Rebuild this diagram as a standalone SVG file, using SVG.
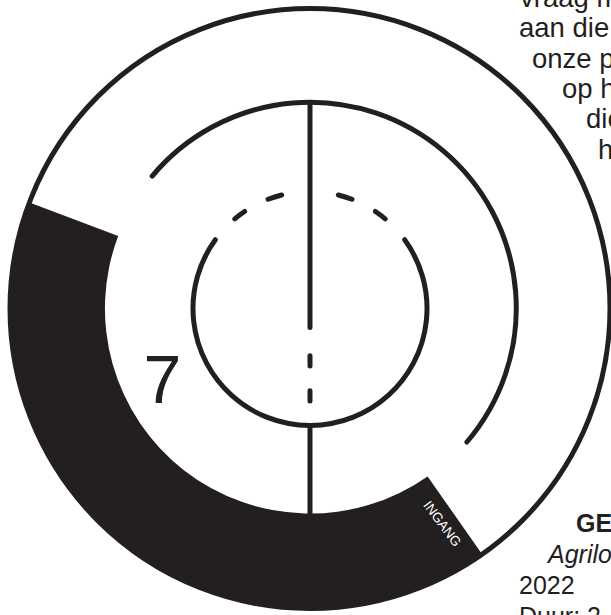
<svg xmlns="http://www.w3.org/2000/svg" width="611" height="615" viewBox="0 0 611 615">
<style>
.ln{fill:none;stroke:#231f20;stroke-width:5;stroke-linecap:round}
.txt{font-family:"Liberation Sans",Arial,sans-serif;fill:#231f20;font-size:27.5px}
.bt{font-family:"Liberation Sans",Arial,sans-serif;fill:#231f20;font-size:25px}
</style>
<rect width="611" height="615" fill="#ffffff"/>
<g id="band">
<path d="M482.1,554.3 A300,300 0 0 1 29.4,202.5 L118.2,236.0 A205,205 0 0 0 427.6,476.4 Z" fill="#231f20"/>
<text transform="translate(442.5,523.5) rotate(53)" y="4.8" text-anchor="middle" font-family="Liberation Sans, Arial, sans-serif" font-size="13.5" fill="#ffffff">INGANG</text>
</g>
<g id="outer-ring"><circle cx="310" cy="308.5" r="300" class="ln"/></g>
<g id="middle-ring"><path class="ln" d="M152.2,176.1 A206,206 0 1 1 466.9,442.0"/></g>
<g id="inner-ring">
<path class="ln" d="M404.66,239.73 A117,117 0 1 1 215.34,239.73"/>
<path class="ln" d="M234.79,218.87 A117,117 0 0 1 244.57,211.50 M268.07,199.27 A117,117 0 0 1 281.69,195.00 M338.31,195.00 A117,117 0 0 1 351.93,199.27 M375.43,211.50 A117,117 0 0 1 385.21,218.87"/>
</g>
<g id="connectors">
<path class="ln" d="M310,103 V327.5 M310,355.8 V366 M310,390.8 V401"/>
<path class="ln" style="stroke-linecap:butt" d="M310,425 V514"/>
</g>
<g id="number"><text class="txt" x="143.5" y="403" style="font-size:68px">7</text></g>
<g id="top-text">
<text class="txt" x="520" y="7">vraag m</text>
<text class="txt" x="519" y="37.3">aan die</text>
<text class="txt" x="532" y="67.6">onze p</text>
<text class="txt" x="562" y="97.9">op h</text>
<text class="txt" x="586" y="128.2">die</text>
<text class="txt" x="598" y="158.5">h</text>
</g>
<g id="bottom-text">
<text class="bt" x="576" y="532" font-weight="bold">GE</text>
<text class="bt" x="548" y="563" font-style="italic">Agrilo</text>
<text class="bt" x="519" y="594">2022</text>
<text class="bt" x="519" y="625">Duur: 2</text>
</g>
</svg>
